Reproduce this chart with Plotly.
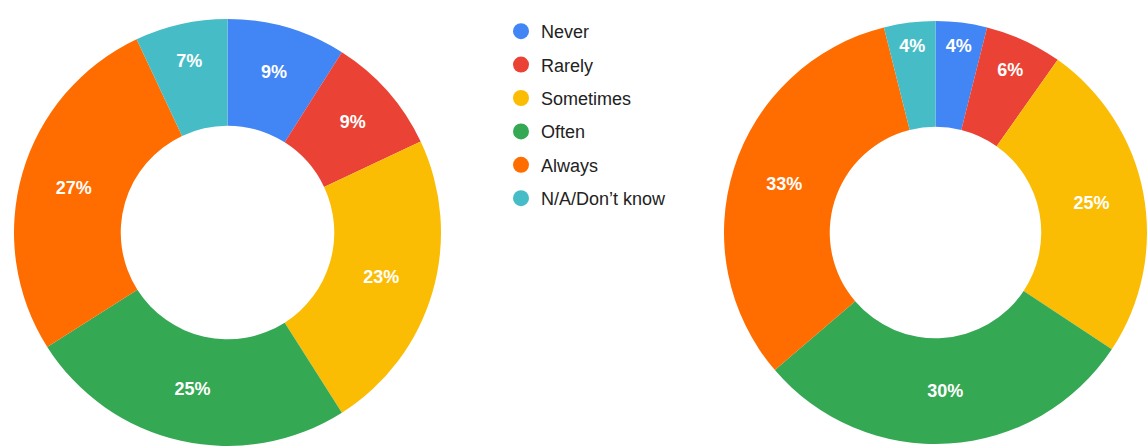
import plotly.graph_objects as go

categories = ["Never", "Rarely", "Sometimes", "Often", "Always", "N/A/Don’t know"]
left_values = [9, 9, 23, 25, 27, 7]
right_values = [4, 6, 25, 30, 33, 4]
colors = ["#4285F4", "#EA4335", "#FBBC04", "#34A853", "#FF6D01", "#46BDC6"]

W, H = 1147, 446
TOP = 19
font_family = "Liberation Sans, Arial, sans-serif"

fig = go.Figure()

def donut(values, x0, x1):
    return go.Pie(
        labels=categories,
        values=values,
        hole=0.5,
        sort=False,
        direction="clockwise",
        rotation=0,
        marker=dict(colors=colors, line=dict(width=0)),
        texttemplate="%{value}%",
        textposition="inside",
        insidetextorientation="horizontal",
        textfont=dict(color="white", size=18, family=font_family, weight="bold"),
        showlegend=False,
        domain=dict(x=[x0 / W, x1 / W], y=[0, 1 - TOP / H]),
    )

fig.add_trace(donut(left_values, 14, 441))
fig.add_trace(donut(right_values, 724, 1147))

# legend entries with circular markers
for cat, col in zip(categories, colors):
    fig.add_trace(go.Scatter(
        x=[None], y=[None], mode="markers", name=cat,
        marker=dict(color=col, size=16, symbol="circle"),
        legendgroup=cat, showlegend=True,
    ))

fig.update_layout(
    width=W, height=H,
    margin=dict(l=0, r=0, t=0, b=0),
    paper_bgcolor="white", plot_bgcolor="white",
    xaxis=dict(visible=False), yaxis=dict(visible=False),
    font=dict(family=font_family),
    legend=dict(
        x=501 / W, y=1 - 13 / H, xanchor="left", yanchor="top",
        font=dict(size=18, color="#222222", family=font_family),
        tracegroupgap=7,
        bgcolor="rgba(0,0,0,0)",
    ),
)

fig.write_html("out.html")
